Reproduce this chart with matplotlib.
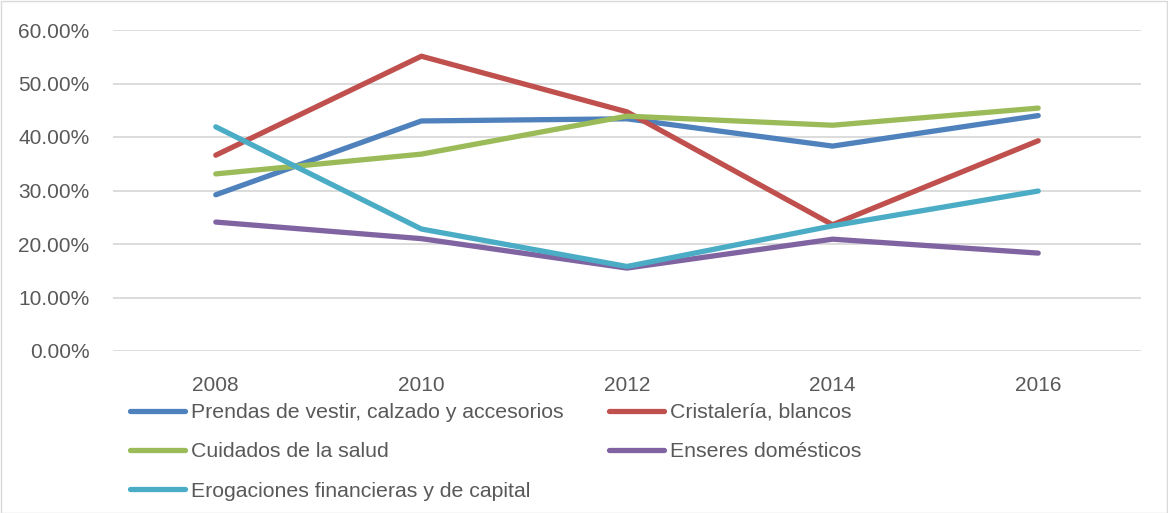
import matplotlib
matplotlib.use("Agg")
import matplotlib.pyplot as plt
from matplotlib.patches import Rectangle

years = ["2008", "2010", "2012", "2014", "2016"]
prendas = [0.292, 0.430, 0.434, 0.383, 0.440]
cristaleria = [0.366, 0.551, 0.447, 0.236, 0.393]
cuidados = [0.331, 0.368, 0.439, 0.422, 0.454]
enseres = [0.241, 0.210, 0.155, 0.209, 0.183]
erogaciones = [0.419, 0.228, 0.158, 0.234, 0.299]

labels = ["Prendas de vestir, calzado y accesorios", "Cristalería, blancos",
          "Cuidados de la salud", "Enseres domésticos",
          "Erogaciones financieras y de capital"]
series = [prendas, cristaleria, cuidados, enseres, erogaciones]
colors = ["#4F81BD", "#C0504D", "#9BBB59", "#8064A2", "#4BACC6"]
yticks = [0.0, 0.1, 0.2, 0.3, 0.4, 0.5, 0.6]

plt.rcParams['font.family'] = ['Liberation Sans', 'DejaVu Sans']
W, H = 1168, 513
fig = plt.figure(figsize=(W / 100, H / 100), dpi=100)
fig.patches.append(Rectangle((0.5 / W, 0.5 / H), 1 - 1.5 / W, 1 - 1.5 / H,
                             transform=fig.transFigure, fill=False,
                             edgecolor="#d9d9d9", linewidth=1))

ax = fig.add_axes([113 / W, 1 - 351 / H, 1028 / W, 321 / H])
x = list(range(len(years)))
handles = []
for vals, c, lab in zip(series, colors, labels):
    ln, = ax.plot(x, vals, color=c, linewidth=3.8, solid_capstyle="round",
                  solid_joinstyle="round", label=lab, zorder=3)
    handles.append(ln)

ax.set_xlim(-0.5, len(years) - 0.5)
ax.set_ylim(0, 0.6)
ax.set_yticks(yticks)
ax.set_yticklabels([f"{v*100:.2f}%" for v in yticks])
ax.set_xticks(x)
ax.set_xticklabels(years)
ax.grid(axis="y", color="#d9d9d9", linewidth=1.3)
ax.set_axisbelow(True)
for s in ax.spines.values():
    s.set_visible(False)
ax.tick_params(length=0, labelsize=15, colors="#595959")
ax.tick_params(axis="y", pad=17)
ax.tick_params(axis="x", pad=18)

leg_kw = dict(frameon=False, fontsize=15.3, handlelength=2.6, handletextpad=0.25,
              labelspacing=0.96, borderpad=0, borderaxespad=0, labelcolor="#595959")
col1 = [handles[0], handles[2], handles[4]]
col2 = [handles[1], handles[3]]
fig.legend(col1, [h.get_label() for h in col1], loc="upper left",
           bbox_to_anchor=(130 / W, 1 - 403 / H), **leg_kw)
fig.legend(col2, [h.get_label() for h in col2], loc="upper left",
           bbox_to_anchor=(609 / W, 1 - 403 / H), **leg_kw)

fig.savefig("out.png", dpi=100)
